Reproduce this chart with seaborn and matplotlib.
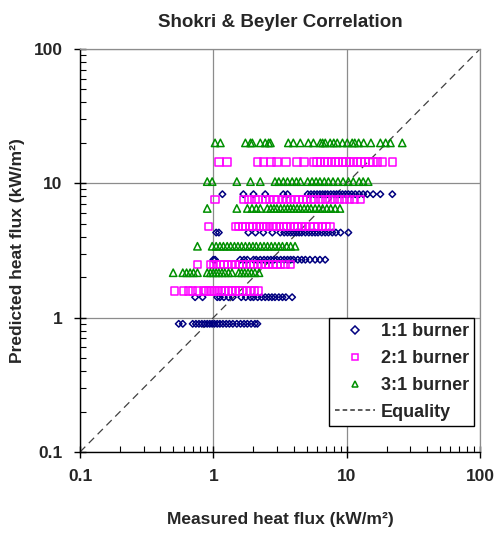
import matplotlib
matplotlib.use("Agg")
import matplotlib.pyplot as plt
import seaborn as sns
import pandas as pd
import numpy as np
from matplotlib.lines import Line2D

# ---- data ----
series_names = ["1:1 burner", "2:1 burner", "3:1 burner"]

# 1:1 burner (predicted levels and measured values)
levels_11 = [0.9, 1.42, 2.7, 4.3, 8.3]
meas_11_a = [0.55, 0.59, 0.7, 0.74, 0.78, 0.82, 0.86, 0.9, 0.94, 0.98, 1.02, 1.07, 1.12, 1.18,
             1.25, 1.32, 1.4, 1.5, 1.6, 1.7, 1.8, 1.92, 2.05, 2.14]
meas_11_b = [0.73, 0.83, 1.07, 1.12, 1.2, 1.3, 1.4, 1.62, 1.75, 1.9, 2.0, 2.15, 2.3, 2.45,
             2.6, 2.75, 2.9, 3.1, 3.3, 3.5, 3.9]
meas_11_c = [1.0, 1.03, 1.59, 1.7, 1.8, 2.0, 2.1, 2.25, 2.4, 2.55, 2.7, 2.85, 3.0, 3.2, 3.4,
             3.6, 3.8, 4.0, 4.3, 4.6, 4.9, 5.3, 5.8, 6.3, 6.9]
meas_11_d = [1.05, 1.1, 1.83, 2.07, 2.37, 2.77, 3.18, 3.4, 3.6, 3.8, 4.0, 4.2, 4.4, 4.6, 4.9,
             5.2, 5.5, 5.8, 6.1, 6.5, 6.9, 7.3, 7.8, 8.3, 9.0, 10.3]
meas_11_e = [1.17, 1.68, 2.0, 2.45, 3.35, 3.6, 5.1, 5.4, 5.7, 6.0, 6.3, 6.6, 6.9, 7.2, 7.6,
             8.0, 8.4, 8.8, 9.3, 9.8, 10.3, 10.9, 11.6, 12.4, 13.3, 14.3, 15.8, 17.9, 22.0]

# 2:1 burner
levels_21 = [1.58, 2.5, 4.76, 7.55, 14.4]
meas_21_a = [0.51, 0.6, 0.65, 0.7, 0.76, 0.84, 0.88, 0.93, 0.98, 1.03, 1.09, 1.15, 1.22, 1.3,
             1.38, 1.47, 1.56, 1.66, 1.78, 1.9, 2.03, 2.18]
meas_21_b = [0.76, 0.95, 1.0, 1.06, 1.12, 1.2, 1.28, 1.38, 1.47, 1.56, 1.66, 1.78, 1.9, 2.0,
             2.15, 2.3, 2.45, 2.6, 2.8, 3.0, 3.2, 3.45, 3.8]
meas_21_c = [0.92, 1.46, 1.55, 1.65, 1.75, 1.86, 1.98, 2.1, 2.23, 2.37, 2.5, 2.65, 2.8, 2.95,
             3.15, 3.35, 3.55, 3.8, 4.05, 4.3, 4.6, 4.9, 5.3, 5.7, 6.1, 6.6, 7.0, 7.5]
meas_21_d = [1.03, 1.7, 1.85, 2.05, 2.18, 2.45, 2.65, 2.85, 3.05, 3.3, 3.55, 3.8, 4.1, 4.4,
             4.7, 5.0, 5.4, 5.8, 6.4, 6.9, 7.5, 8.1, 8.8, 9.6, 10.5, 11.5, 12.7]
meas_21_e = [1.1, 1.27, 2.14, 2.37, 2.7, 3.0, 3.5, 4.25, 4.8, 5.63, 6.0, 6.4, 6.8, 7.2, 7.7,
             8.2, 8.7, 9.3, 9.9, 10.5, 11.2, 12.0, 12.8, 13.7, 14.7, 15.8, 17.0, 18.5, 22.0]

# 3:1 burner
levels_31 = [2.16, 3.4, 6.5, 10.3, 20.0]
meas_31_a = [0.5, 0.59, 0.63, 0.67, 0.71, 0.76, 0.9, 0.95, 1.0, 1.05, 1.1, 1.16, 1.22, 1.3,
             1.38, 1.55, 1.63, 1.72, 1.82, 1.93, 2.05, 2.2]
meas_31_b = [0.76, 0.98, 1.05, 1.12, 1.19, 1.27, 1.35, 1.44, 1.53, 1.63, 1.74, 1.86, 1.98,
             2.1, 2.25, 2.4, 2.55, 2.72, 2.9, 3.1, 3.3, 3.55, 3.8, 4.1]
meas_31_c = [0.9, 1.5, 1.8, 1.95, 2.1, 2.25, 2.54, 2.7, 2.85, 3.0, 3.2, 3.4, 3.6, 3.8, 4.0,
             4.25, 4.5, 4.8, 5.1, 5.4, 5.8, 6.2, 6.6, 7.1, 7.6, 8.2, 8.9]
meas_31_d = [0.9, 0.98, 1.5, 1.9, 2.25, 2.9, 3.1, 3.35, 3.6, 3.9, 4.2, 4.5, 5.1, 5.5, 5.9,
             6.3, 6.8, 7.3, 7.9, 8.6, 9.4, 10.3, 11.2, 12.4, 13.3, 14.5]
meas_31_e = [1.03, 1.13, 1.74, 1.9, 1.96, 2.25, 2.45, 2.6, 2.68, 3.65, 3.98, 4.49, 5.16, 5.63,
             6.35, 6.6, 6.91, 7.52, 8.0, 8.5, 9.3, 10.1, 11.0, 11.5, 12.3, 13.4, 15.2, 17.9,
             19.6, 21.3, 26.1]

equality = [0.1, 100]
tick_values = [0.1, 1, 10, 100]
tick_labels = ["0.1", "1", "10", "100"]

# ---- build long table ----
rows = []
groups = [
    (series_names[0], levels_11, [meas_11_a, meas_11_b, meas_11_c, meas_11_d, meas_11_e]),
    (series_names[1], levels_21, [meas_21_a, meas_21_b, meas_21_c, meas_21_d, meas_21_e]),
    (series_names[2], levels_31, [meas_31_a, meas_31_b, meas_31_c, meas_31_d, meas_31_e]),
]
for name, levels, meas_lists in groups:
    for lvl, ml in zip(levels, meas_lists):
        for m in ml:
            rows.append({"series": name, "measured": m, "predicted": lvl})
df = pd.DataFrame(rows)

# ---- plot ----
sns.set_style("white")
plt.rcParams["font.family"] = ["Liberation Sans", "DejaVu Sans"]
plt.rcParams["font.weight"] = "bold"

fig = plt.figure(figsize=(4.98, 5.34), dpi=100)
ax = fig.add_axes([80 / 498, 1 - 452 / 534, 400 / 498, 403 / 534])

styles = {
    series_names[0]: ("D", "#000080", 11),
    series_names[1]: ("s", "#FF00FF", 28),
    series_names[2]: ("^", "#009000", 28),
}
for name in series_names:
    mk, col, sz = styles[name]
    sub = df[df["series"] == name]
    sns.scatterplot(data=sub, x="measured", y="predicted", ax=ax, marker=mk, s=sz,
                    facecolors="none", edgecolor=col, linewidth=1.1, zorder=3, legend=False)

sns.lineplot(x=equality, y=equality, ax=ax, color="#404040", linestyle=(0, (6, 4)),
             linewidth=0.9, zorder=2, legend=False)

ax.set_xscale("log")
ax.set_yscale("log")
ax.set_xlim(0.1, 100)
ax.set_ylim(0.1, 100)
ax.set_xticks(tick_values)
ax.set_xticklabels(tick_labels)
ax.set_yticks(tick_values)
ax.set_yticklabels(tick_labels)

ax.grid(True, which="major", color="#8c8c8c", linewidth=0.9)
ax.grid(False, which="minor")
ax.set_axisbelow(True)

for side in ["left", "bottom"]:
    ax.spines[side].set_color("black")
    ax.spines[side].set_linewidth(1.0)
for side in ["top", "right"]:
    ax.spines[side].set_color("#8c8c8c")
    ax.spines[side].set_linewidth(0.9)

ax.tick_params(which="major", direction="inout", length=9, width=1.0, color="black",
               labelsize=12.5, pad=8, bottom=True, left=True, top=False, right=False)
ax.tick_params(which="minor", direction="in", length=4, width=0.8, color="black",
               bottom=True, left=True, top=False, right=False)
for lab in ax.get_xticklabels() + ax.get_yticklabels():
    lab.set_fontweight("bold")

ax.set_xlabel("Measured heat flux (kW/m²)", fontsize=12.5, fontweight="bold", labelpad=20)
ax.set_ylabel("Predicted heat flux (kW/m²)", fontsize=12.5, fontweight="bold", labelpad=6)
ax.set_title("Shokri & Beyler Correlation", fontsize=13.5, fontweight="bold", pad=16)

handles = [
    Line2D([], [], linestyle="none", marker="D", markersize=3.6, markerfacecolor="none",
           markeredgecolor="#000080", markeredgewidth=1.1),
    Line2D([], [], linestyle="none", marker="s", markersize=5, markerfacecolor="none",
           markeredgecolor="#FF00FF", markeredgewidth=1.1),
    Line2D([], [], linestyle="none", marker="^", markersize=5, markerfacecolor="none",
           markeredgecolor="#009000", markeredgewidth=1.1),
    Line2D([], [], color="#303030", linestyle=(0, (3, 2)), linewidth=1.1),
]
leg = ax.legend(handles, series_names + ["Equality"], loc="lower right",
                bbox_to_anchor=(0.995, 0.055), prop={"size": 13, "weight": "bold"},
                frameon=True, fancybox=False, framealpha=1, edgecolor="black",
                borderpad=0.3, labelspacing=0.55, handlelength=2.2, handletextpad=0.35,
                borderaxespad=0.2)
leg.get_frame().set_linewidth(1.0)
leg.set_zorder(5)

fig.savefig("out.png", dpi=100)
